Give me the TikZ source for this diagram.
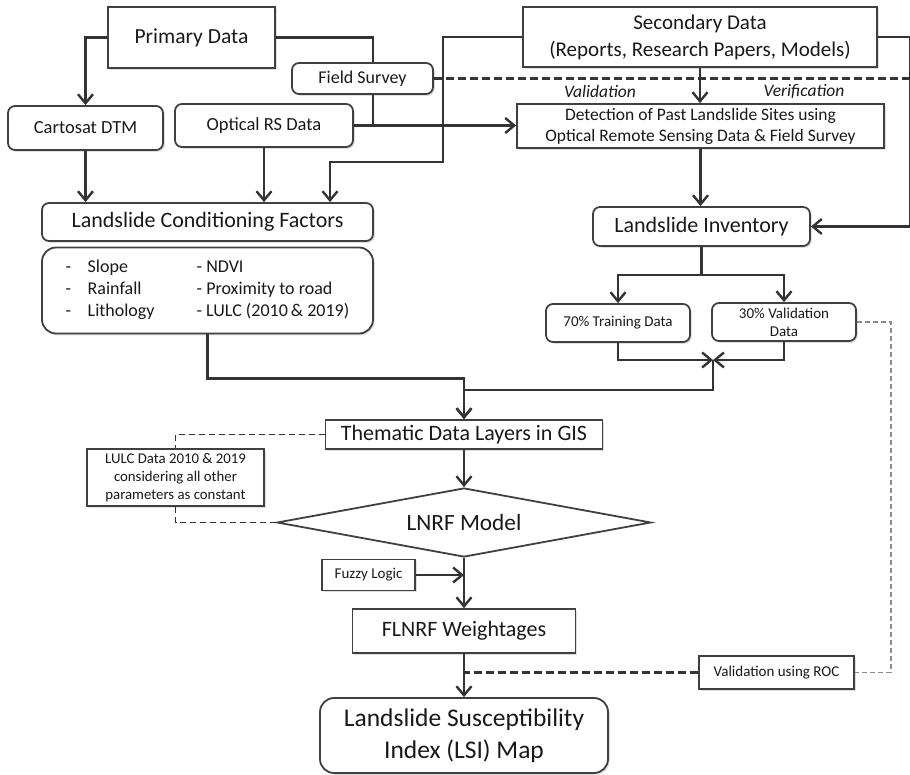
\documentclass[tikz,border=0pt]{standalone}
\usepackage{fontspec}
\setmainfont{Carlito}
\usepackage{tikz}
\usetikzlibrary{arrows.meta,positioning,shapes.geometric,shadows}

\begin{document}
\begin{tikzpicture}[
  x=1pt, y=-1pt,
  every node/.style={text=black!90, inner sep=0pt},
  box/.style={draw=black!75, line width=1.8pt, fill=white, align=center, drop shadow={shadow xshift=1.8pt, shadow yshift=-1.8pt, opacity=0.25}},
  rbox/.style={box, rounded corners=7pt},
  arr/.style={-{Straight Barb[length=9pt,width=15pt]}, line width=2.4pt, draw=black!80},
  link/.style={line width=2.4pt, draw=black!80},
  dlink/.style={line width=2.2pt, draw=black!80, dash pattern=on 8pt off 4pt},
  tlink/.style={line width=1.6pt, draw=black!80, dash pattern=on 6pt off 4pt},
  glink/.style={line width=1.5pt, draw=black!45, dash pattern=on 5pt off 3pt}
]
\useasboundingbox (0,0) rectangle (910,774);
\node[box, minimum width=167pt, minimum height=61pt, font=\fontsize{21.5}{26}\selectfont] (primary) at (191.5,37.5) {Primary Data};
\node[box, minimum width=354pt, minimum height=60pt, font=\fontsize{21}{27}\selectfont] (secondary) at (700,37) {Secondary Data\\(Reports, Research Papers, Models)};
\node[rbox, minimum width=141pt, minimum height=31pt, font=\fontsize{18}{21}\selectfont] (fieldsurvey) at (362.5,78.5) {Field Survey};
\node[rbox, minimum width=155pt, minimum height=44pt, font=\fontsize{18.5}{22}\selectfont] (cartosat) at (85.5,128) {Cartosat DTM};
\node[rbox, minimum width=178pt, minimum height=43pt, font=\fontsize{18.5}{22}\selectfont] (optical) at (264,125.5) {Optical RS Data};
\node[box, minimum width=367pt, minimum height=44pt, font=\fontsize{17.5}{21}\selectfont] (detection) at (700.5,126) {Detection of Past Landslide Sites using\\Optical Remote Sensing Data \& Field Survey};
\node[font=\fontsize{17.5}{21}\selectfont\itshape] (valid) at (600,91) {Validation};
\node[font=\fontsize{17.5}{21}\selectfont\itshape] (verif) at (804,91) {Verification};
\node[rbox, minimum width=331pt, minimum height=38pt, font=\fontsize{22}{26}\selectfont] (factors) at (207.5,222) {Landslide Conditioning Factors};
\node[box, rounded corners=14pt, minimum width=331pt, minimum height=86pt, font=\fontsize{18}{22}\selectfont] (factorlist) at (207.5,290.5) {%
  \begin{tabular}{@{}p{22pt}@{}p{109pt}@{}l@{}}
  - & Slope & - NDVI\\
  - & Rainfall & - Proximity to road\\
  - & Lithology & - LULC (2010\,\& 2019)
  \end{tabular}};
\node[rbox, minimum width=217pt, minimum height=39pt, font=\fontsize{22}{26}\selectfont] (inventory) at (701.5,226.5) {Landslide Inventory};
\node[rbox, minimum width=144pt, minimum height=38pt, font=\fontsize{15}{18}\selectfont] (training) at (618,323) {70\% Training Data};
\node[rbox, minimum width=144pt, minimum height=38pt, font=\fontsize{15}{18}\selectfont] (validation) at (784,322) {30\% Validation\\Data};
\node[box, minimum width=277pt, minimum height=29pt, font=\fontsize{22}{26}\selectfont] (thematic) at (464,434.5) {Thematic Data Layers in GIS};
\node[box, minimum width=177pt, minimum height=57pt, font=\fontsize{14.8}{18}\selectfont] (lulc) at (175.5,477.5) {LULC Data 2010 \& 2019\\considering all other\\parameters as constant};
\node[diamond, draw=black!75, line width=1.8pt, fill=white, aspect=5.4, minimum width=374pt, minimum height=69pt, font=\fontsize{23.3}{28}\selectfont] (lnrf) at (464,522.5) {LNRF Model};
\node[box, minimum width=93pt, minimum height=31pt, font=\fontsize{15}{18}\selectfont] (fuzzy) at (368.5,575) {Fuzzy Logic};
\node[box, minimum width=223pt, minimum height=44pt, font=\fontsize{22}{26}\selectfont] (flnrf) at (464,631) {FLNRF Weightages};
\node[box, minimum width=155pt, minimum height=33pt, font=\fontsize{15}{18}\selectfont] (roc) at (776.5,672.5) {Validation using ROC};
\node[box, rounded corners=14pt, minimum width=288pt, minimum height=75pt, font=\fontsize{25.5}{32}\selectfont] (lsi) at (464,735.5) {Landslide Susceptibility\\Index (LSI) Map};
\coordinate (merge) at (713,360);
\draw[arr] (primary.west) -| (cartosat.north);
\draw[link] (primary.east) -| ([xshift=10.5pt]fieldsurvey.north);
\draw[link] ([xshift=10.5pt]fieldsurvey.south) -- ++(0,31.5);
\draw[arr] (optical.east) -- (optical.east -| detection.west);
\draw[arr] (cartosat.south) -- (cartosat.south |- factors.north);
\draw[arr] (optical.south) -- (optical.south |- factors.north);
\draw[arr] (secondary.west) -- ++(-79,0) -- ++(0,125) -| ([xshift=122.5pt]factors.north);
\draw[arr] (secondary.east) -- ++(32,0) |- (inventory.east);
\draw[arr] (secondary.south) -- (secondary.south |- detection.north);
\draw[dlink] (fieldsurvey.east) -- ++(478,0);
\draw[arr] (detection.south) -- (detection.south |- inventory.north);
\draw[arr] (inventory.south) -- ++(0,28) -| (training.north);
\draw[arr] (inventory.south) -- ++(0,28) -| (validation.north);
\draw[arr] (training.south) |- (merge);
\draw[arr] (validation.south) |- (merge);
\draw[arr] (merge) -- ++(0,30) -| (thematic.north);
\draw[arr] (factorlist.south) -- ++(0,44) -| (thematic.north);
\draw[arr] (thematic.south) -- (lnrf.north);
\draw[tlink] (thematic.west) -| (lulc.north);
\draw[tlink] (lulc.south) |- (lnrf.west);
\draw[arr] (lnrf.south) -- (flnrf.north);
\draw[arr] (fuzzy.east) -- (fuzzy.east -| lnrf.south);
\draw[arr] (flnrf.south) -- (lsi.north);
\draw[dlink] (roc.west) -- (roc.west -| flnrf.south);
\draw[glink] (validation.east) -- ++(34,0) |- (roc.east);
\end{tikzpicture}
\end{document}
